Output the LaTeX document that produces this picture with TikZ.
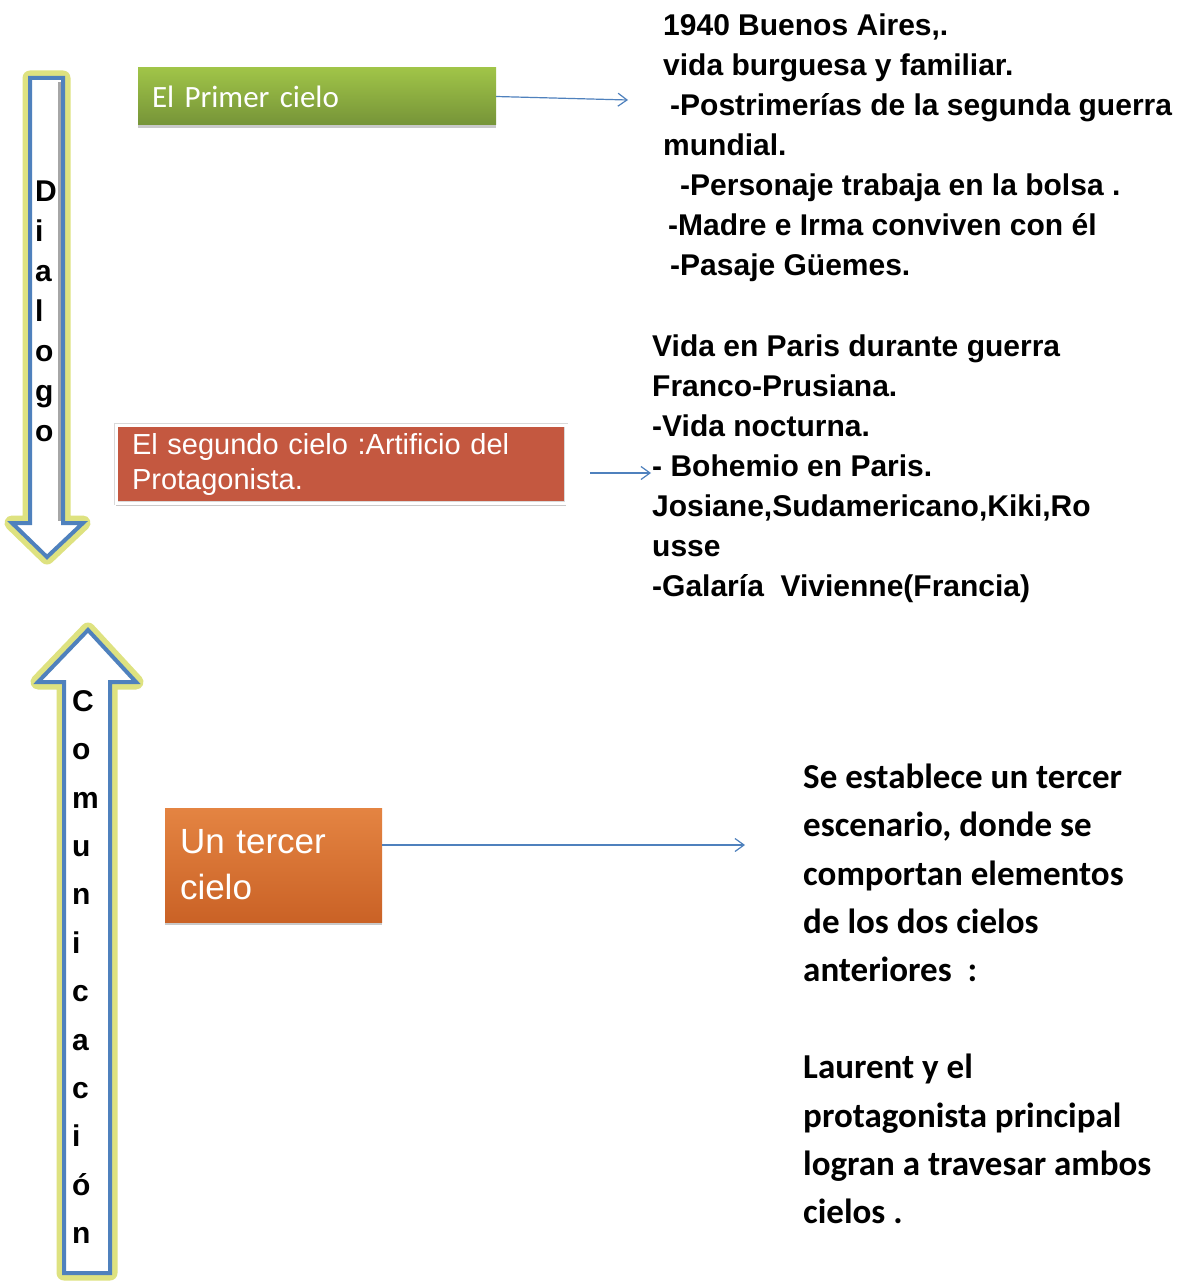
\documentclass[tikz,border=0pt]{standalone}
\usepackage{fontspec}
\setmainfont{Liberation Sans}
\newfontfamily\calib{Carlito}
\usetikzlibrary{arrows.meta,shadows}
\definecolor{arrowblue}{RGB}{79,129,189}
\definecolor{glow}{RGB}{222,226,128}
\definecolor{greentop}{RGB}{160,196,72}
\definecolor{greenbot}{RGB}{118,148,56}
\definecolor{redbox}{RGB}{196,88,64}
\definecolor{orangetop}{RGB}{228,132,66}
\definecolor{orangebot}{RGB}{202,98,38}
\begin{document}
\begin{tikzpicture}[x=1pt,y=-1pt,
  fatglow/.style={draw=glow,line width=15pt,line join=round},
  fatarrow/.style={draw=arrowblue,fill=white,line width=4pt,line join=miter},
  vlabel/.style={anchor=north west,inner sep=0pt,align=left,font=\bfseries\fontsize{30}{40}\selectfont},
  info/.style={anchor=north west,inner sep=0pt,align=left,font=\bfseries\fontsize{30}{40}\selectfont},
  infocal/.style={anchor=north west,inner sep=0pt,align=left,font=\calib\bfseries\fontsize{35}{48.4}\selectfont},
  boxshadow/.style={drop shadow={shadow xshift=0pt,shadow yshift=-3pt,opacity=.35,fill=black!60}},
  greenbox/.style={top color=greentop,bottom color=greenbot,draw=none,boxshadow,
    text width=330pt,inner xsep=14pt,inner ysep=0pt,minimum height=57pt,align=left,
    text=white,font=\calib\fontsize{31}{36}\selectfont},
  redstyle/.style={fill=redbox,draw=black!15,double=white,double distance=3pt,line width=.6pt,boxshadow,
    text width=418pt,inner xsep=16pt,inner ysep=0pt,minimum height=78pt,align=left,
    text=white,font=\fontsize{29}{35}\selectfont},
  orangebox/.style={top color=orangetop,bottom color=orangebot,draw=none,boxshadow,
    text width=187pt,inner xsep=15pt,inner ysep=0pt,minimum height=114pt,align=left,
    text=white,font=\fontsize{35}{46}\selectfont},
  link/.style={draw=arrowblue,line width=1.2pt,-{Straight Barb[length=9pt,width=13pt]}}
]
\useasboundingbox[fill=white] (0,0) rectangle (1198,1281);

% down arrow (Dialogo)
\path[fatglow] (30,78) -- (63,78) -- (63,523) -- (83,523) -- (47,557) -- (12,523) -- (30,523) -- cycle;
\path[fatarrow] (30,78) -- (63,78) -- (63,523) -- (83,523) -- (47,557) -- (12,523) -- (30,523) -- cycle;
\draw[black!35,line width=3pt] (59.5,82) -- (59.5,521);
\node[vlabel] (dl) at (35,177) {\rule{0pt}{24pt}D\\i\\a\\l\\o\\g\\o};

% up arrow (Comunicacion)
\path[fatglow] (88,630) -- (136,682) -- (110,682) -- (110,1273) -- (64,1273) -- (64,682) -- (38,682) -- cycle;
\path[fatarrow] (88,630) -- (136,682) -- (110,682) -- (110,1273) -- (64,1273) -- (64,682) -- (38,682) -- cycle;
\node[vlabel,font=\bfseries\fontsize{30}{48.4}\selectfont] (cm) at (72,687)
  {\rule{0pt}{24pt}C\\o\\m\\u\\n\\i\\c\\a\\c\\i\\ó\\n};

% boxes
\node[greenbox] (g) at (317,96.5) {El Primer cielo};
\node[redstyle] (r) at (341,464) {El segundo cielo :Artificio del\\Protagonista.};
\node[orangebox] (o) at (273.5,865) {Un tercer\\cielo};

% text blocks
\node[info] (b1) at (663,11) {\rule{0pt}{24pt}1940 Buenos Aires,.\\
  vida burguesa y familiar.\\
  \hspace*{7pt}-Postrimerías de la segunda guerra\\
  mundial.\\
  \hspace*{17pt}-Personaje trabaja en la bolsa .\\
  \hspace*{5pt}-Madre e Irma conviven con él\\
  \hspace*{7pt}-Pasaje Güemes.};
\node[info] (b2) at (652,332) {\rule{0pt}{24pt}Vida en Paris durante guerra\\
  Franco-Prusiana.\\
  -Vida nocturna.\\
  - Bohemio en Paris.\\
  Josiane,Sudamericano,Kiki,Ro\\
  usse\\
  -Galaría\ \ Vivienne(Francia)};
\node[infocal] (b3) at (803,760) {\rule{0pt}{28pt}Se establece un tercer\\
  escenario, donde se\\
  comportan elementos\\
  de los dos cielos\\
  anteriores\ \ :\\
  \mbox{}\\
  Laurent y el\\
  protagonista principal\\
  logran a travesar ambos\\
  cielos .};

% connectors
\coordinate (t1) at (628,100);
\draw[link] (g.east) -- (t1);
\coordinate (t2) at (651,473);
\coordinate (s2) at ([xshift=24pt]r.east |- t2);
\draw[link] (s2) -- (t2);
\coordinate (t3) at (745,845);
\draw[link] (o.east |- t3) -- (t3);
\end{tikzpicture}
\end{document}
